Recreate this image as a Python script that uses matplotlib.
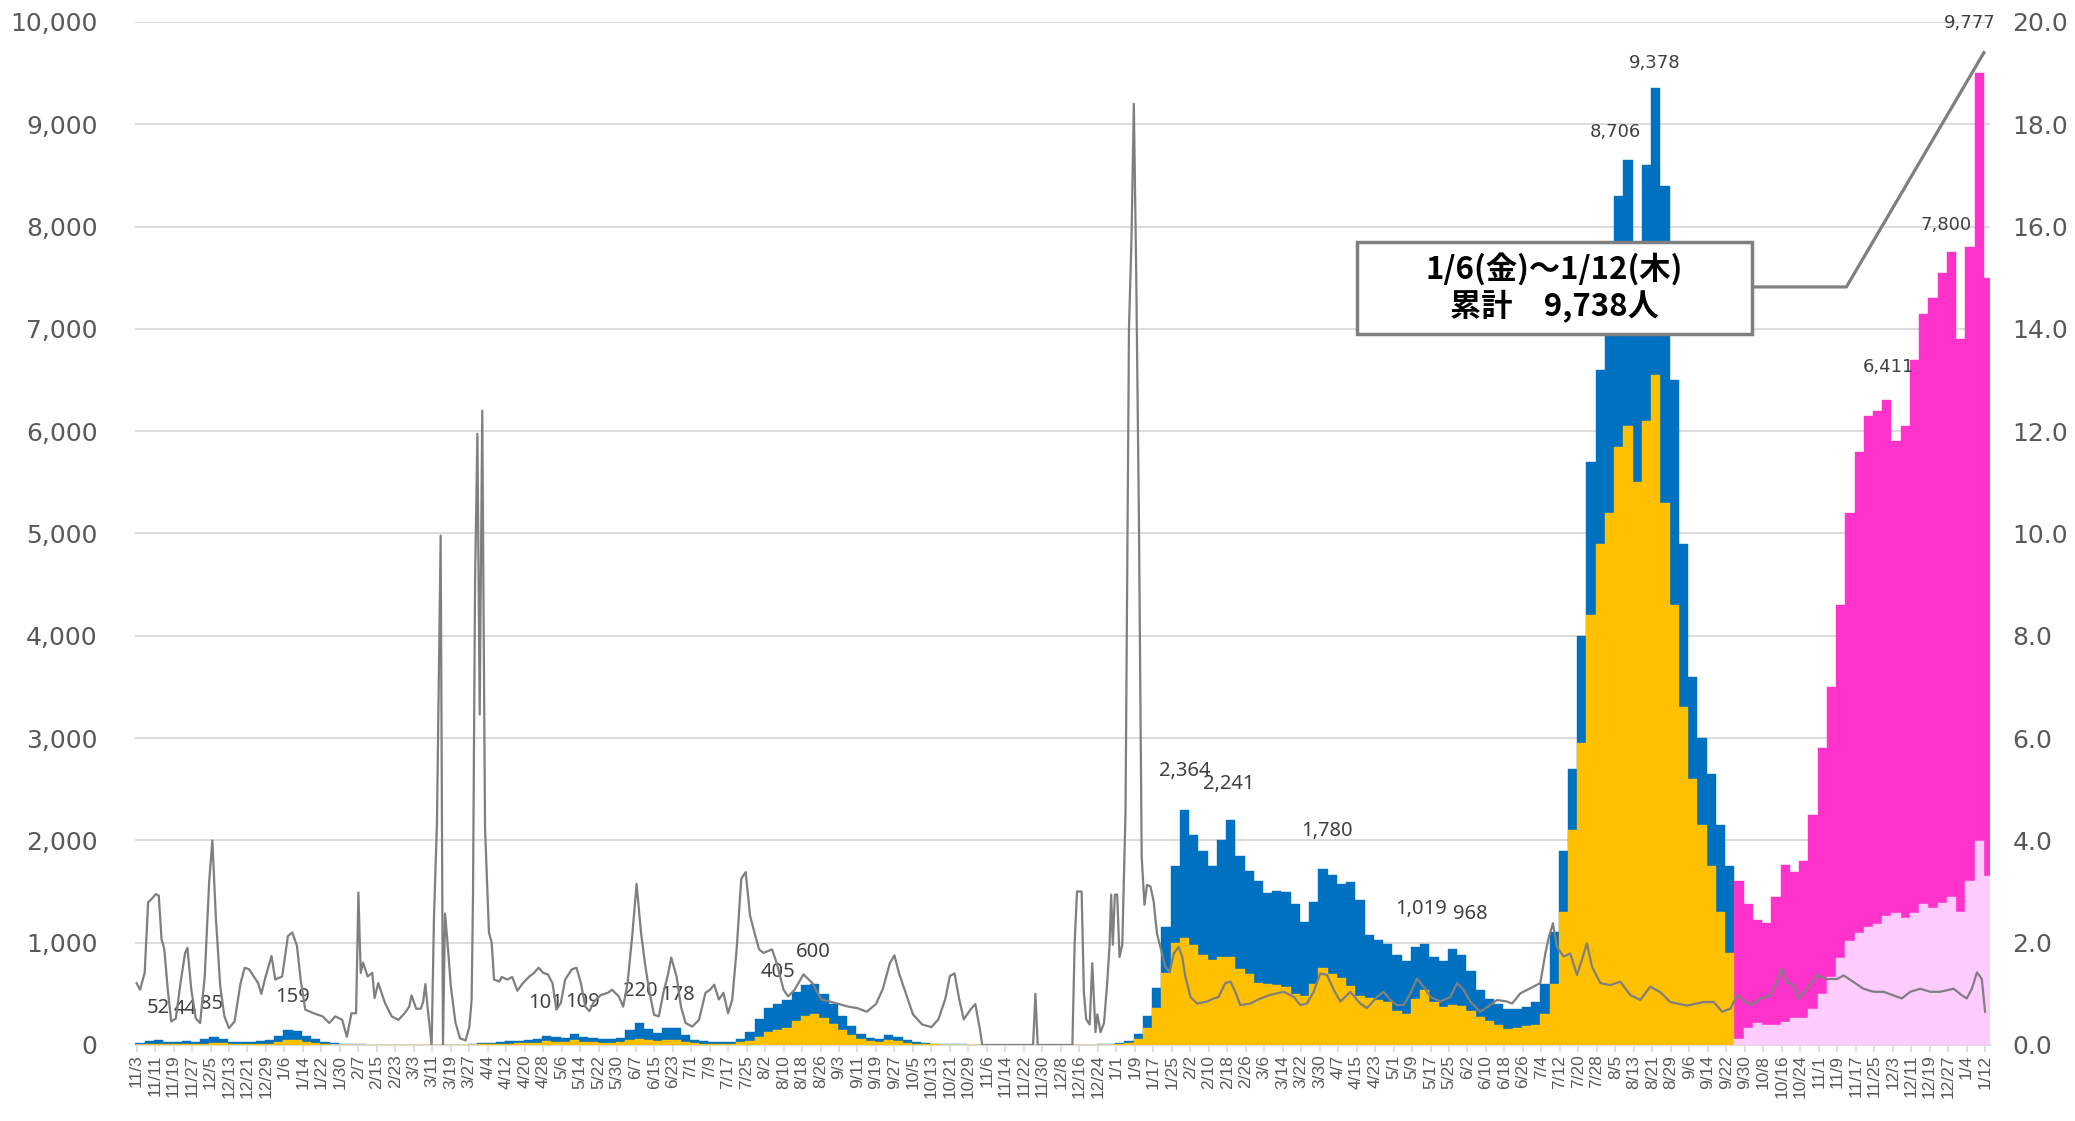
import numpy as np
import pandas as pd
import matplotlib
matplotlib.use("Agg")
import matplotlib.pyplot as plt
from matplotlib.patches import Rectangle
from matplotlib.ticker import FuncFormatter

plt.rcParams['font.family'] = ['DejaVu Sans']

# day 0 = 2020-11-03, bars are 4-day bins
start = "2020-11-03"
end = "2023-01-12"
bin_days = np.arange(0, 801, 4)
pink_from = 692  # 2022-09-26

total = [
    15, 40, 50, 30, 25, 40, 30, 55, 80, 60,
    32, 26, 28, 35, 45, 85, 150, 135, 85, 55,
    30, 15, 8, 6, 5, 4, 4, 3, 3, 3,
    3, 2, 2, 3, 2, 3, 6, 15, 22, 28,
    35, 40, 48, 55, 90, 75, 70, 105, 75, 65,
    62, 60, 70, 150, 215, 160, 115, 165, 170, 95,
    45, 35, 33, 30, 25, 55, 130, 250, 360, 405,
    440, 520, 590, 600, 500, 400, 280, 190, 110, 70,
    60, 95, 80, 45, 25, 15, 10, 8, 6, 5,
    4, 2, 1, 1, 1, 1, 1, 1, 1, 1,
    1, 1, 2, 3, 5, 8, 15, 35, 110, 280,
    560, 1150, 1750, 2300, 2050, 1900, 1750, 2000, 2200, 1850,
    1700, 1600, 1490, 1510, 1500, 1380, 1200, 1400, 1720, 1660,
    1570, 1590, 1420, 1080, 1030, 990, 880, 820, 960, 990,
    860, 820, 940, 880, 720, 540, 450, 400, 350, 350,
    375, 420, 600, 1100, 1900, 2700, 4000, 5700, 6600, 7000,
    8300, 8650, 7300, 8600, 9350, 8400, 6500, 4900, 3600, 3000,
    2650, 2150, 1750, 1600, 1380, 1220, 1190, 1450, 1760, 1690,
    1800, 2250, 2900, 3500, 4300, 5200, 5800, 6150, 6200, 6300,
    5900, 6050, 6700, 7150, 7300, 7550, 7750, 6900, 7800, 9500,
    7500]

lower = [
    3, 8, 10, 6, 5, 8, 6, 12, 20, 15,
    8, 6, 8, 10, 12, 25, 50, 45, 28, 15,
    8, 4, 2, 2, 1, 1, 1, 1, 1, 1,
    1, 1, 1, 1, 1, 1, 2, 5, 8, 10,
    12, 15, 18, 22, 40, 30, 28, 45, 30, 25,
    22, 22, 25, 45, 60, 45, 35, 50, 50, 30,
    15, 12, 12, 10, 10, 25, 40, 80, 130, 150,
    170, 230, 280, 300, 260, 210, 150, 100, 55, 35,
    30, 45, 40, 22, 12, 8, 5, 4, 3, 2,
    2, 1, 0, 0, 0, 0, 0, 0, 0, 0,
    0, 0, 1, 1, 2, 3, 6, 15, 60, 170,
    360, 700, 1000, 1050, 980, 880, 830, 860, 860, 740,
    690, 610, 595, 585, 570, 500, 480, 600, 750, 690,
    650, 580, 480, 455, 440, 420, 330, 300, 450, 540,
    420, 370, 390, 380, 330, 270, 230, 200, 160, 170,
    185, 200, 300, 600, 1300, 2100, 2950, 4200, 4900, 5200,
    5850, 6050, 5500, 6100, 6550, 5300, 4300, 3300, 2600, 2150,
    1750, 1300, 900, 60, 170, 215, 200, 200, 225, 260,
    265, 350, 500, 660, 850, 1020, 1090, 1150, 1180, 1260,
    1290, 1240, 1290, 1380, 1340, 1390, 1450, 1300, 1600, 1990,
    1650]

# gray line (right axis), read at irregular days
line_days = [
    0, 1.5, 3.5, 5, 6.4, 8.3, 9.6, 10.8, 12, 13.5, 15, 17, 19, 21, 22, 23.7, 25.6, 27.5, 29.5, 31.4,
    32.8, 34.3, 36.2, 38, 40, 42.4, 45, 46.8, 48.7, 50.7, 52.6, 54, 55.5, 58.4, 60, 63, 65.5, 67.4, 69.4, 71,
    73, 76.7, 80.5, 83.4, 86, 89, 91, 93, 95, 96, 97, 98, 100, 102, 103, 104.6, 107.5, 110.4, 113.3, 116,
    118, 119, 121, 123, 124, 125, 126, 127.7, 128.7, 130, 131.6, 132.6, 133.5, 134.5, 136, 138, 140, 142.4, 144, 145,
    145.6, 146.5, 147.5, 148.5, 149.6, 150.8, 152.5, 153.7, 154.7, 157, 158, 160.5, 162.6, 164.8, 167, 170, 172, 174, 176, 178,
    180, 181.7, 183.6, 185.5, 188.4, 190.4, 192.3, 194.2, 196, 198, 201, 204, 205.8, 208.7, 210.6, 212.5, 214.5, 216.4, 218.3, 220.2,
    222, 224, 226, 228, 230, 231.4, 233.7, 235.6, 237.6, 240.5, 243.4, 246.2, 248.2, 250, 252, 254, 256, 257.8, 259.7, 261.7,
    263.6, 265.5, 267.4, 269.4, 271.3, 275, 277, 280, 282, 284.8, 288.6, 292.5, 296.3, 300, 304, 308, 312, 316, 320, 323,
    326, 328, 330, 333, 336, 340, 344, 347, 350, 352, 354, 356, 358, 361, 363, 365, 366, 388, 389, 390,
    405, 406, 407, 409, 410, 411, 412.5, 413.6, 415, 415.8, 417.2, 418.7, 420.1, 421.1, 421.8, 422.5, 423.4, 424.4, 425.4, 426.6,
    428, 429.5, 430.6, 431.6, 432.6, 433.8, 435, 436.2, 437.3, 438.8, 440.2, 441.6, 443.8, 445.2, 447.1, 448.9, 451, 452.5, 453.9, 456.1,
    459, 463.3, 466.2, 468.3, 471.2, 473.4, 475.5, 477.7, 482, 486.4, 490.7, 496.5, 500.8, 503.7, 506.5, 509.4, 512.3, 515.2, 518.1, 521,
    525.3, 529.6, 532.5, 536.8, 539.7, 542.6, 545.5, 548.4, 551.3, 554.1, 557, 560, 564.2, 568.6, 571.5, 574.3, 577.2, 581.5, 585.9, 588.8,
    593.1, 595.3, 598.9, 603.2, 607.5, 609.7, 611.1, 613, 614.7, 617.6, 620.5, 623.4, 625.5, 627.7, 629.9, 633.5, 637.8, 642.1, 646.4, 650.8,
    655.1, 659.5, 663.8, 671, 678.2, 682.6, 686.2, 689.8, 692.6, 698.4, 702.7, 707, 710, 712, 714.2, 717.1, 719.3, 722.9, 727.2, 731.6,
    735.9, 738.8, 743.1, 747.4, 751.8, 756.1, 760.4, 764, 767.6, 772, 776.3, 780.6, 786.4, 790, 792.1, 794.3, 796.5, 798.6, 800]
line_vals = [
    1.21, 1.08, 1.41, 2.79, 2.85, 2.95, 2.92, 2.07, 1.87, 1.08, 0.46, 0.52, 1.21, 1.8, 1.9, 1.08, 0.52, 0.43, 1.34, 3.18,
    4.0, 2.5, 1.15, 0.56, 0.33, 0.46, 1.21, 1.51, 1.48, 1.34, 1.21, 1.0, 1.28, 1.74, 1.28, 1.34, 2.13, 2.2, 1.94, 1.28,
    0.69, 0.62, 0.56, 0.43, 0.56, 0.49, 0.16, 0.62, 0.62, 2.98, 1.41, 1.61, 1.34, 1.41, 0.92, 1.21, 0.82, 0.56, 0.49, 0.62,
    0.75, 0.97, 0.71, 0.71, 0.84, 1.19, 0.71, 0.0, 2.48, 4.34, 9.96, 0.0, 2.57, 2.04, 1.15, 0.44, 0.13, 0.09, 0.35, 0.88,
    2.92, 9.1, 11.95, 6.46, 12.4, 4.25, 2.2, 2.0, 1.28, 1.24, 1.33, 1.28, 1.33, 1.06, 1.2, 1.34, 1.41, 1.51, 1.41, 1.38,
    1.21, 0.69, 0.82, 1.28, 1.48, 1.51, 1.21, 0.75, 0.66, 0.85, 0.98, 1.02, 1.08, 0.95, 0.75, 1.21, 2.13, 3.15, 2.2, 1.54,
    1.02, 0.59, 0.56, 1.02, 1.38, 1.71, 1.34, 0.75, 0.43, 0.36, 0.49, 1.02, 1.08, 1.18, 0.89, 1.02, 0.62, 0.89, 1.87, 3.25,
    3.38, 2.53, 2.2, 1.87, 1.8, 1.87, 1.61, 1.08, 0.95, 1.08, 1.38, 1.21, 0.89, 0.85, 0.8, 0.75, 0.72, 0.65, 0.8, 1.1,
    1.6, 1.75, 1.4, 1.0, 0.6, 0.4, 0.35, 0.5, 0.9, 1.35, 1.4, 0.9, 0.5, 0.7, 0.8, 0.3, 0.0, 0.0, 1.0, 0.0,
    0.0, 2.0, 3.0, 3.0, 1.0, 0.5, 0.4, 1.6, 0.25, 0.6, 0.25, 0.43, 1.23, 1.96, 2.94, 1.96, 2.94, 2.94, 1.72, 1.96,
    4.54, 14.0, 15.8, 18.4, 15.2, 10.3, 3.68, 2.74, 3.13, 3.1, 2.8, 2.18, 1.79, 1.53, 1.43, 1.79, 1.92, 1.73, 1.34, 0.94,
    0.81, 0.85, 0.91, 0.94, 1.21, 1.24, 1.04, 0.78, 0.81, 0.91, 0.98, 1.04, 0.94, 0.78, 0.81, 1.04, 1.4, 1.37, 1.08, 0.85,
    1.04, 0.81, 0.72, 0.94, 1.04, 0.88, 0.78, 0.78, 1.01, 1.3, 1.14, 0.94, 0.85, 0.94, 1.21, 1.08, 0.85, 0.65, 0.78, 0.88,
    0.85, 0.81, 1.01, 1.11, 1.21, 1.79, 2.09, 2.38, 1.92, 1.73, 1.79, 1.37, 1.66, 1.99, 1.53, 1.21, 1.17, 1.24, 0.98, 0.88,
    1.14, 1.03, 0.84, 0.77, 0.84, 0.84, 0.65, 0.71, 0.97, 0.78, 0.9, 0.97, 1.23, 1.49, 1.23, 1.17, 0.91, 1.1, 1.36, 1.29,
    1.29, 1.36, 1.23, 1.1, 1.04, 1.04, 0.97, 0.91, 1.04, 1.1, 1.04, 1.04, 1.1, 0.97, 0.91, 1.1, 1.42, 1.29, 0.65]

# peak labels
lab_a_text = ["52", "44", "85", "159", "101", "109", "220", "178", "405", "600",
              "2,364", "2,241", "1,780", "1,019", "968"]
lab_a_day = [9.2, 20.8, 32.6, 67.6, 177, 193, 218, 234, 277.8, 292.7,
             453.6, 472.5, 515, 556, 577.3]
lab_a_val = [52, 44, 85, 159, 101, 109, 220, 178, 405, 600,
             2364, 2241, 1780, 1019, 968]
lab_b_text = ["8,706", "9,378", "6,411", "7,800", "9,777"]
lab_b_day = [639.8, 656.9, 758.3, 783, 793.3]
lab_b_val = [8706, 9378, 6411, 7800, 9777]

callout_text = "1/6(金)～1/12(木)\n累計　9,738人"

ticks = pd.date_range(start, end, freq="8D")
tick_days = (ticks - ticks[0]).days
tick_labels = [f"{d.month}/{d.day}" for d in ticks]

BLUE = '#0070C0'
YELLOW = '#FFC000'
MAGENTA = '#FF33CC'
LPINK = '#FFCCFF'
GRAY = '#7F7F7F'
TXT = '#595959'

fig = plt.figure(figsize=(20.75, 11.21), dpi=100)
ax = fig.add_axes([0.0651, 0.0678, 0.894, 0.9126])

top_col = [MAGENTA if d >= pink_from else BLUE for d in bin_days]
low_col = [LPINK if d >= pink_from else YELLOW for d in bin_days]
ax.bar(bin_days - 0.5, total, width=4, align='edge', color=top_col,
       edgecolor=top_col, linewidth=0.3, zorder=2)
ax.bar(bin_days - 0.5, lower, width=4, align='edge', color=low_col,
       edgecolor=low_col, linewidth=0.3, zorder=3)

ax.set_xlim(-0.65, 802.2)
ax.set_ylim(0, 10000)
ax.set_yticks(np.arange(0, 10001, 1000))
ax.yaxis.set_major_formatter(FuncFormatter(lambda v, p: f"{v:,.0f}"))
ax.yaxis.grid(True, color='#D9D9D9', lw=1.3)
ax.set_axisbelow(True)
for s in ['top', 'left', 'right']:
    ax.spines[s].set_visible(False)
ax.spines['bottom'].set_color('#D9D9D9')
ax.spines['bottom'].set_linewidth(1.3)
ax.tick_params(axis='y', length=0, pad=27, labelsize=18, labelcolor=TXT)
ax.set_xticks(tick_days)
ax.set_xticklabels(tick_labels, rotation=90, fontsize=12.5, color=TXT,
                   family=['Liberation Sans', 'DejaVu Sans'])
ax.tick_params(axis='x', length=5, color='#D9D9D9', width=1.2, pad=2)

for t, d, v in zip(lab_a_text, lab_a_day, lab_a_val):
    ax.annotate(t, (d, v), xytext=(0, 23), textcoords='offset points',
                ha='center', va='center', fontsize=14.5, color='#404040',
                family=['Noto Sans', 'DejaVu Sans'], zorder=5)
for t, d, v in zip(lab_b_text, lab_b_day, lab_b_val):
    ax.annotate(t, (d, v), xytext=(0, 16), textcoords='offset points',
                ha='center', va='center', fontsize=13, color='#404040',
                annotation_clip=False, zorder=5)

ax2 = ax.twinx()
ax2.plot(line_days, line_vals, color=GRAY, lw=1.6, zorder=3)
ax2.set_ylim(0, 20)
ax2.set_yticks(np.arange(0, 20.1, 2))
ax2.yaxis.set_major_formatter(FuncFormatter(lambda v, p: f"{v:.1f}"))
for s in ['top', 'left', 'right', 'bottom']:
    ax2.spines[s].set_visible(False)
ax2.tick_params(axis='y', length=0, pad=16, labelsize=18, labelcolor=TXT)

# callout box with leader line to the last peak
ax2.plot([699, 740, 799.5], [7410, 7410, 9700], transform=ax.transData,
         color=GRAY, lw=2.3, zorder=6, clip_on=False)
ax2.add_patch(Rectangle((528, 6950), 171, 900, transform=ax.transData,
                        facecolor='white', edgecolor=GRAY, lw=2.5, zorder=7))
ax2.text(613.5, 7400, callout_text, transform=ax.transData, ha='center',
         va='center', fontsize=22.5, fontweight='bold', color='black',
         linespacing=1.2, family=['Noto Sans CJK JP', 'DejaVu Sans'], zorder=8)

fig.savefig("out.png", dpi=100)
